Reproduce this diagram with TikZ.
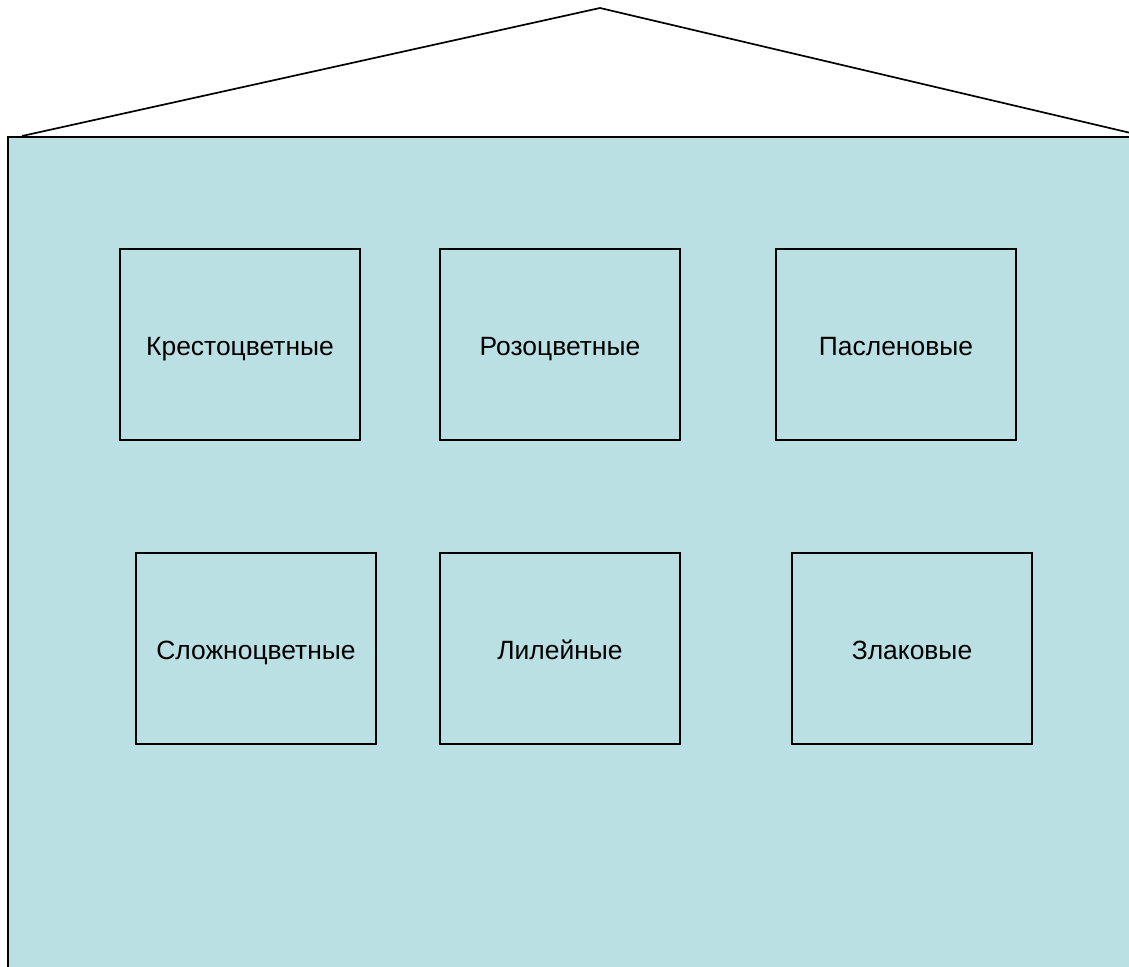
\documentclass[tikz,border=0pt]{standalone}
\usepackage{fontspec}
\setmainfont{Liberation Sans}
\usepackage{xcolor}
\usetikzlibrary{positioning}
\definecolor{wallblue}{RGB}{186,224,227}

\begin{document}
\begin{tikzpicture}[
    x=0.025cm, y=-0.025cm,
    family/.style={draw, line width=1.4pt, minimum width=240*0.025cm, minimum height=191*0.025cm, inner sep=0pt, text height=16.3pt, text depth=0pt, font=\fontsize{18.8}{22}\selectfont},
    wall/.style={fill=wallblue, draw, line width=2pt},
    roof/.style={draw, line width=1.2pt}
]
\useasboundingbox (0,0) rectangle (1129,966);
\clip (0,0) rectangle (1129,966);
% house
\path[wall] (8,137) rectangle (1150,1000);
\draw[roof] (22,136) -- (600,8) -- (1135,134);
% families
\node[family] (kres) at (240,344.5) {Крестоцветные};
\node[family] (roz) at (560,344.5) {Розоцветные};
\node[family] (pasl) at (896,344.5) {Пасленовые};
\node[family] (slozh) at (256,648.5) {Сложноцветные};
\node[family] (lil) at (560,648.5) {Лилейные};
\node[family] (zlak) at (912,648.5) {Злаковые};
\end{tikzpicture}
\end{document}
